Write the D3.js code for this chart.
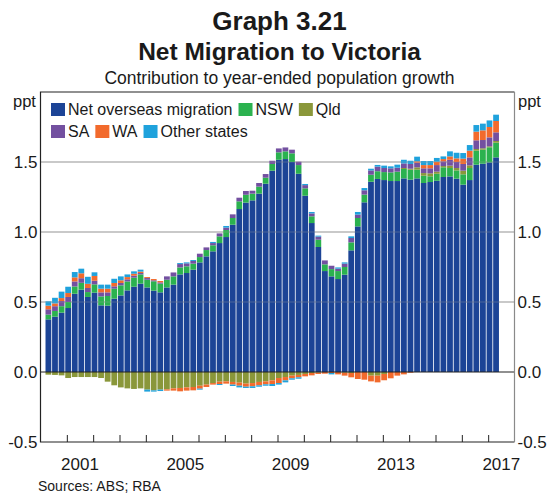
<!DOCTYPE html>
<html>
<head>
<meta charset="utf-8">
<script src="https://cdn.jsdelivr.net/npm/d3@7"></script>
<style>
  html, body { margin: 0; padding: 0; background: #fff; }
  svg { display: block; font-family: "Liberation Sans", Arial, Helvetica, sans-serif; }
</style>
</head>
<body>
<svg id="chart" width="558" height="496"></svg>
<script>
// Quarterly contributions to year-ended population growth in Victoria (ppt),
// March quarter 2000 to March quarter 2017.
const startYear = 2000;
const quarters = [];
for (let i = 0; i < 69; i++) {
  quarters.push(startYear + Math.floor(i / 4) + "Q" + (i % 4 + 1));
}

const netOverseas = [0.376,0.395,0.424,0.457,0.559,0.588,0.536,0.567,0.476,0.474,
  0.524,0.547,0.583,0.609,0.631,0.604,0.581,0.569,0.604,0.624,
  0.697,0.707,0.731,0.783,0.826,0.862,0.921,0.964,1.052,1.164,
  1.21,1.226,1.274,1.345,1.438,1.516,1.521,1.5,1.416,1.259,
  1.064,0.893,0.721,0.683,0.664,0.695,0.869,1.04,1.212,1.359,
  1.379,1.371,1.364,1.364,1.383,1.374,1.383,1.35,1.357,1.366,
  1.393,1.397,1.381,1.338,1.371,1.481,1.488,1.497,1.533];
const nsw = [0.034,0.041,0.046,0.043,0.052,0.049,0.035,0.059,0.064,0.069,
  0.071,0.072,0.064,0.065,0.066,0.055,0.067,0.062,0.055,0.059,
  0.05,0.048,0.043,0.038,0.045,0.043,0.048,0.05,0.048,0.055,
  0.056,0.048,0.05,0.043,0.048,0.053,0.055,0.062,0.062,0.053,
  0.048,0.052,0.048,0.052,0.057,0.055,0.057,0.06,0.055,0.05,
  0.055,0.057,0.062,0.067,0.067,0.071,0.062,0.052,0.041,0.05,
  0.069,0.06,0.059,0.074,0.086,0.1,0.1,0.108,0.105];
const qld = [-0.019,-0.021,-0.024,-0.043,-0.036,-0.036,-0.036,-0.036,-0.043,-0.069,
  -0.095,-0.11,-0.117,-0.121,-0.117,-0.126,-0.131,-0.126,-0.124,-0.117,
  -0.114,-0.11,-0.107,-0.098,-0.09,-0.079,-0.069,-0.067,-0.071,-0.076,
  -0.083,-0.079,-0.071,-0.067,-0.06,-0.043,-0.036,-0.026,-0.021,-0.014,
  -0.007,-0.004,0,0,0,-0.005,-0.007,0,0,-0.026,
  -0.026,-0.014,0,0,0.007,0.007,0.017,0.019,0.021,0.015,
  0.009,0.017,0.017,0.026,0.019,0.012,0.01,0.007,0.012];
const sa = [0.038,0.034,0.037,0.036,0.036,0.033,0.029,0.026,0.029,0.026,
  0.017,0.017,0.015,0.014,0.01,0.012,0.007,0.009,0.024,0.028,
  0.024,0.021,0.019,0.024,0.019,0.016,0.021,0.017,0.026,0.026,
  0.027,0.021,0.026,0.026,0.023,0.028,0.028,0.026,0.024,0.023,
  0.021,0.022,0.028,0.024,0.017,0.024,0.031,0.024,0.031,0.031,
  0.033,0.029,0.029,0.028,0.033,0.034,0.033,0.034,0.036,0.047,
  0.034,0.042,0.043,0.048,0.057,0.062,0.059,0.064,0.062];
const wa = [0.026,0.02,0.021,0.028,0.029,0.035,0.03,0.034,0.026,0.026,
  0.024,0.019,0.016,0.014,0.01,0.007,0.009,0.01,-0.009,-0.016,
  -0.024,-0.023,-0.024,-0.021,-0.017,-0.011,-0.017,-0.016,-0.019,-0.022,
  -0.022,-0.023,-0.024,-0.021,-0.026,-0.036,-0.024,-0.019,-0.017,-0.017,
  -0.017,-0.01,-0.012,-0.007,-0.017,-0.021,-0.031,-0.05,-0.055,-0.041,
  -0.048,-0.045,-0.045,-0.026,-0.017,-0.005,0.01,0.023,0.023,0.024,
  0.016,0.024,0.026,0.038,0.048,0.062,0.069,0.074,0.081];
const otherStates = [0.031,0.04,0.046,0.045,0.038,0.033,0.05,0.026,0.029,0.029,
  0.03,0.028,0.019,0.017,0.014,-0.014,-0.009,-0.01,0,0,
  0.007,0.007,0.007,-0.007,0,0.008,-0.007,0.012,-0.01,-0.012,
  -0.009,-0.012,-0.01,-0.01,-0.014,-0.011,-0.014,-0.01,-0.01,0.008,
  0.01,0.007,0,-0.01,0.009,0.009,0.012,0.019,0.016,0.012,
  0.012,0.017,0.014,0.022,0.026,0.023,0.033,0.029,0.029,0.027,
  0.019,0.036,0.04,0.04,0.04,0.047,0.048,0.047,0.045];

const seriesNames = ["Net overseas migration", "NSW", "Qld", "SA", "WA", "Other states"];
const seriesValues = [netOverseas, nsw, qld, sa, wa, otherStates];
const seriesColors = ["#1c4496", "#2bb24f", "#8a973a", "#7350a0", "#f26a2c", "#1fa2dc"];

const yTicks = [-0.5, 0.0, 0.5, 1.0, 1.5];
const yTickLabels = ["-0.5", "0.0", "0.5", "1.0", "1.5"];
const xYearLabels = [2001, 2005, 2009, 2013, 2017];

// Layout
const plot = { left: 40.5, right: 514.5, top: 92, bottom: 442 };
const svg = d3.select("#chart");

const x = d3.scaleLinear().domain([2000, 2018]).range([plot.left, plot.right]);
const y = d3.scaleLinear().domain([-0.5, 2.0]).range([plot.bottom, plot.top]);

// Rows for stacking
const rows = quarters.map((q, i) => {
  const r = { q: q, t: startYear + i * 0.25 };
  seriesNames.forEach((name, s) => { r[name] = seriesValues[s][i]; });
  return r;
});
const stack = d3.stack().keys(seriesNames).offset(d3.stackOffsetDiverging);
const stacked = stack(rows);

const quarterW = x(2000.25) - x(2000);
const barW = quarterW - 0.8;

// Gridlines behind bars
const grid = svg.append("g");
grid.selectAll("line").data([0.5, 1.0, 1.5]).join("line")
  .attr("x1", plot.left).attr("x2", plot.right)
  .attr("y1", d => y(d)).attr("y2", d => y(d))
  .attr("stroke", "#a4a4a4").attr("stroke-width", 1);

// Stacked bars
const barsG = svg.append("g");
barsG.selectAll("g").data(stacked).join("g")
  .attr("fill", (d, i) => seriesColors[i])
  .selectAll("rect").data(d => d).join("rect")
  .attr("x", d => x(d.data.t + 0.3) - barW / 2)
  .attr("width", barW)
  .attr("y", d => y(Math.max(d[0], d[1])))
  .attr("height", d => Math.abs(y(d[0]) - y(d[1])));

// Gridlines faintly across bars
svg.append("g").selectAll("line").data([0.5, 1.0, 1.5]).join("line")
  .attr("x1", plot.left).attr("x2", plot.right)
  .attr("y1", d => y(d)).attr("y2", d => y(d))
  .attr("stroke", "#a4a4a4").attr("stroke-width", 1).attr("stroke-opacity", 0.35);

// Zero line
svg.append("line")
  .attr("x1", plot.left).attr("x2", plot.right)
  .attr("y1", y(0)).attr("y2", y(0))
  .attr("stroke", "#222").attr("stroke-width", 1.2);

// Frame: dark on three sides, grey on the right
const frame = svg.append("g").attr("fill", "none").attr("stroke-width", 1.2);
frame.append("path")
  .attr("d", `M${plot.right},${plot.top}H${plot.left}V${plot.bottom}H${plot.right}`)
  .attr("stroke", "#222");
frame.append("line")
  .attr("x1", plot.right).attr("x2", plot.right)
  .attr("y1", plot.top).attr("y2", plot.bottom)
  .attr("stroke", "#8a8a8a");

// Year ticks along the bottom
const xAxis = d3.axisBottom(x)
  .tickValues(d3.range(2001, 2018))
  .tickSize(-7)
  .tickFormat("");
const xg = svg.append("g").attr("transform", `translate(0,${plot.bottom})`).call(xAxis);
xg.select(".domain").remove();
xg.selectAll(".tick line").attr("stroke", "#222").attr("stroke-width", 1);

// Year labels centred within each year
svg.append("g").selectAll("text").data(xYearLabels).join("text")
  .attr("x", d => x(d + 0.5))
  .attr("y", 470)
  .attr("text-anchor", "middle")
  .attr("font-size", 17)
  .attr("fill", "#1a1a1a")
  .text(d => d);

// Y labels on both sides
const yl = svg.append("g").attr("font-size", 17).attr("fill", "#1a1a1a");
yl.selectAll("text.l").data(yTicks).join("text").attr("class", "l")
  .attr("x", plot.left - 3).attr("y", d => y(d) + 6)
  .attr("text-anchor", "end")
  .text((d, i) => yTickLabels[i]);
yl.selectAll("text.r").data(yTicks).join("text").attr("class", "r")
  .attr("x", plot.right + 3).attr("y", d => y(d) + 6)
  .attr("text-anchor", "start")
  .text((d, i) => yTickLabels[i]);

// Units
svg.append("text").attr("x", 13).attr("y", 107).attr("font-size", 16.5).attr("fill", "#1a1a1a").text("ppt");
svg.append("text").attr("x", 518).attr("y", 107).attr("font-size", 16.5).attr("fill", "#1a1a1a").text("ppt");

// Titles
const cx = (plot.left + plot.right) / 2 + 2;
svg.append("text").attr("x", cx).attr("y", 30).attr("text-anchor", "middle")
  .attr("font-size", 26).attr("font-weight", "bold").attr("fill", "#1a1a1a").text("Graph 3.21");
svg.append("text").attr("x", cx).attr("y", 60).attr("text-anchor", "middle")
  .attr("font-size", 24.5).attr("font-weight", "bold").attr("fill", "#1a1a1a").text("Net Migration to Victoria");
svg.append("text").attr("x", cx).attr("y", 84).attr("text-anchor", "middle")
  .attr("font-size", 17.5).attr("fill", "#1a1a1a").text("Contribution to year-ended population growth");

// Legend
const legendRows = [[0, 1, 2], [3, 4, 5]];
const legend = svg.append("g").attr("font-size", 16).attr("fill", "#1a1a1a");
legendRows.forEach((row, r) => {
  let lx = 51;
  const ly = 103 + r * 22;
  row.forEach(s => {
    legend.append("rect").attr("x", lx).attr("y", ly).attr("width", 14).attr("height", 13)
      .attr("fill", seriesColors[s]);
    const t = legend.append("text").attr("x", lx + 17).attr("y", ly + 12).text(seriesNames[s]);
    lx += 17 + t.node().getComputedTextLength() + 6;
  });
});

// Source note
svg.append("text").attr("x", 38).attr("y", 491).attr("font-size", 14).attr("fill", "#1a1a1a")
  .text("Sources: ABS; RBA");
</script>
</body>
</html>
